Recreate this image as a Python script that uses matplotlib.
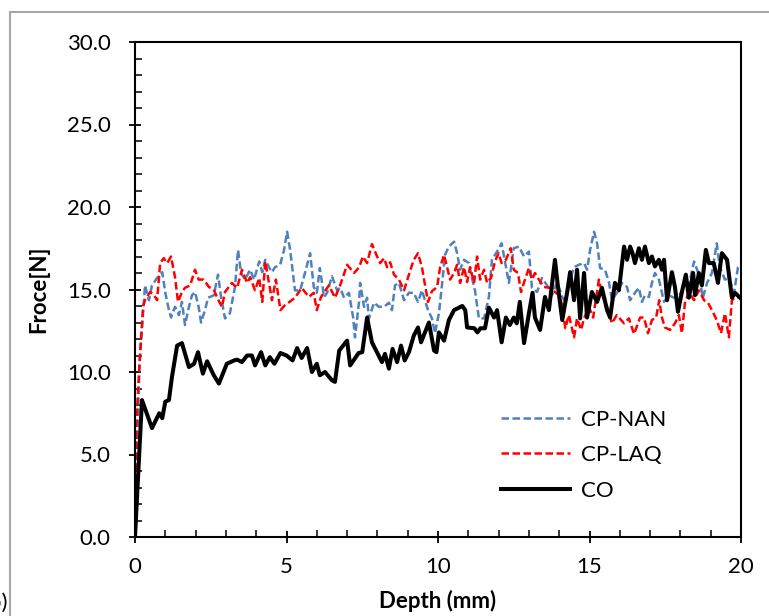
import matplotlib
matplotlib.use("Agg")
import matplotlib.pyplot as plt
from matplotlib.patches import Rectangle
from matplotlib.ticker import MultipleLocator, FormatStrFormatter

# ---- data ----
co_x = [0.0, 0.23, 0.56, 0.8, 0.9, 1.0, 1.12, 1.22, 1.39, 1.55, 1.78, 1.95, 2.08, 2.24, 2.38, 2.6, 2.77,
        3.03, 3.27, 3.37, 3.53, 3.7, 3.86, 3.96, 4.16, 4.3, 4.45, 4.6, 4.8, 5.0, 5.2, 5.35, 5.5, 5.68, 5.84,
        6.0, 6.1, 6.27, 6.5, 6.6, 6.74, 7.0, 7.1, 7.38, 7.5, 7.66, 7.82, 8.15, 8.25, 8.38, 8.5, 8.65, 8.78,
        8.9, 9.04, 9.2, 9.34, 9.44, 9.7, 9.87, 9.95, 10.03, 10.2, 10.36, 10.53, 10.8, 10.9, 10.96, 11.2,
        11.3, 11.4, 11.55, 11.68, 11.85, 11.95, 12.1, 12.24, 12.37, 12.5, 12.6, 12.7, 12.84, 13.0, 13.12,
        13.2, 13.37, 13.53, 13.66, 13.86, 13.96, 14.1, 14.26, 14.36, 14.49, 14.59, 14.69, 14.82, 14.92,
        15.08, 15.25, 15.41, 15.58, 15.68, 15.84, 15.97, 16.14, 16.24, 16.34, 16.42, 16.5, 16.63, 16.73,
        16.83, 16.96, 17.06, 17.16, 17.29, 17.39, 17.46, 17.56, 17.72, 17.82, 17.92, 18.05, 18.18, 18.28,
        18.42, 18.48, 18.61, 18.71, 18.84, 18.94, 19.1, 19.24, 19.37, 19.54, 19.7, 19.8, 19.97]
co_y = [0.0, 8.3, 6.6, 7.5, 7.2, 8.2, 8.3, 9.7, 11.6, 11.75, 10.3, 10.5, 11.2, 9.9, 10.65, 9.8, 9.3,
        10.5, 10.7, 10.75, 10.6, 11.0, 11.0, 10.4, 11.2, 10.4, 10.9, 10.5, 11.15, 11.0, 10.7, 11.45, 10.85,
        11.45, 10.0, 10.5, 9.8, 10.0, 9.5, 9.4, 11.3, 11.9, 10.4, 11.15, 11.2, 13.3, 11.8, 10.6, 11.1, 10.2,
        11.4, 10.6, 11.6, 10.7, 11.2, 12.2, 12.7, 11.8, 13.0, 11.3, 11.2, 12.4, 11.9, 13.15, 13.75, 14.0,
        13.75, 12.7, 12.65, 12.4, 12.65, 12.65, 13.9, 13.3, 13.75, 11.8, 13.3, 12.85, 13.3, 12.95, 14.25,
        11.75, 13.55, 14.8, 13.3, 12.55, 14.55, 13.75, 16.8, 15.15, 13.15, 14.8, 16.05, 14.35, 16.2, 13.25,
        16.0, 13.3, 14.85, 14.25, 15.1, 13.75, 13.3, 15.4, 14.95, 17.6, 16.8, 17.6, 17.2, 16.6, 17.5, 16.8,
        17.6, 16.6, 17.0, 16.4, 16.8, 16.2, 16.8, 14.35, 16.05, 15.15, 13.65, 14.85, 15.9, 14.5, 16.0,
        14.65, 16.0, 15.25, 17.4, 16.6, 16.6, 15.4, 17.2, 16.8, 14.5, 14.8, 14.5]

laq_x = [0.0, 0.05, 0.17, 0.27, 0.33, 0.5, 0.63, 0.73, 0.83, 0.95, 1.06, 1.19, 1.32, 1.42, 1.55, 1.65,
         1.82, 1.98, 2.1, 2.27, 2.44, 2.6, 2.7, 2.87, 2.97, 3.2, 3.37, 3.53, 3.7, 3.8, 3.96, 4.1, 4.2, 4.3,
         4.42, 4.52, 4.65, 4.8, 4.95, 5.1, 5.28, 5.5, 5.74, 5.9, 6.0, 6.14, 6.4, 6.6, 6.77, 7.0, 7.23, 7.4,
         7.52, 7.66, 7.82, 7.99, 8.09, 8.22, 8.32, 8.42, 8.55, 8.71, 8.88, 9.04, 9.2, 9.34, 9.47, 9.67, 9.8,
         9.97, 10.07, 10.2, 10.3, 10.4, 10.53, 10.63, 10.73, 10.86, 10.96, 11.06, 11.19, 11.29, 11.39, 11.52,
         11.62, 11.75, 11.88, 12.0, 12.1, 12.24, 12.4, 12.5, 12.64, 12.74, 12.87, 13.0, 13.1, 13.2, 13.33,
         13.5, 13.7, 13.86, 14.0, 14.1, 14.2, 14.32, 14.49, 14.59, 14.72, 14.82, 14.98, 15.12, 15.31, 15.45,
         15.58, 15.74, 15.9, 16.14, 16.3, 16.47, 16.67, 16.8, 16.93, 17.06, 17.2, 17.3, 17.39, 17.49, 17.66,
         17.82, 17.95, 18.05, 18.15, 18.28, 18.45, 18.61, 18.78, 18.91, 19.04, 19.2, 19.34, 19.47, 19.6,
         19.7, 19.83, 19.97]
laq_y = [0.0, 7.1, 11.2, 14.0, 14.35, 14.85, 14.65, 14.35, 16.6, 16.9, 16.6, 17.0, 15.75, 14.25, 14.85,
         15.1, 15.25, 16.2, 15.6, 15.6, 15.15, 15.0, 14.55, 13.95, 14.85, 15.4, 15.1, 16.2, 15.4, 15.75,
         14.95, 15.7, 14.25, 16.7, 15.4, 14.35, 15.6, 13.75, 14.05, 14.25, 14.5, 15.1, 14.55, 14.8, 13.75,
         14.55, 15.25, 14.5, 15.25, 16.5, 16.0, 16.35, 17.0, 16.6, 17.75, 17.0, 16.6, 16.9, 16.35, 16.65,
         15.9, 15.6, 14.95, 15.9, 16.8, 17.2, 16.35, 14.25, 14.9, 15.15, 16.35, 17.1, 16.35, 15.6, 16.0,
         16.5, 15.4, 16.35, 15.45, 16.35, 15.4, 17.0, 15.6, 16.2, 15.4, 15.7, 16.7, 17.2, 16.6, 16.8, 17.5,
         16.2, 16.0, 14.85, 15.6, 16.3, 15.6, 16.0, 15.6, 15.15, 15.1, 14.85, 14.65, 14.05, 12.65, 13.45,
         12.1, 13.25, 12.55, 13.25, 13.95, 13.3, 15.6, 14.5, 13.95, 12.95, 13.45, 12.95, 13.25, 12.3, 13.3,
         13.3, 12.35, 13.15, 13.3, 14.35, 13.3, 12.7, 12.55, 12.95, 13.45, 12.35, 14.2, 14.85, 14.35, 14.95,
         14.35, 14.2, 13.75, 13.15, 12.35, 13.55, 12.1, 14.35, 14.55, 14.5]

nan_x = [0.0, 0.05, 0.15, 0.33, 0.46, 0.56, 0.73, 0.9, 1.0, 1.12, 1.19, 1.32, 1.45, 1.55, 1.65, 1.78,
         1.88, 1.98, 2.1, 2.18, 2.31, 2.41, 2.6, 2.74, 2.84, 2.97, 3.13, 3.3, 3.4, 3.5, 3.63, 3.8, 3.93, 4.1,
         4.2, 4.3, 4.42, 4.52, 4.62, 4.79, 4.92, 5.02, 5.12, 5.28, 5.45, 5.61, 5.78, 5.9, 6.0, 6.1, 6.24,
         6.34, 6.5, 6.67, 6.77, 6.9, 7.06, 7.2, 7.26, 7.4, 7.43, 7.56, 7.66, 7.72, 7.89, 8.05, 8.22, 8.38,
         8.48, 8.58, 8.71, 8.88, 9.04, 9.2, 9.34, 9.47, 9.67, 9.8, 9.9, 10.03, 10.13, 10.23, 10.36, 10.53,
         10.63, 10.73, 10.86, 11.02, 11.12, 11.22, 11.35, 11.52, 11.68, 11.78, 11.95, 12.1, 12.2, 12.34,
         12.5, 12.67, 12.84, 13.0, 13.1, 13.27, 13.43, 13.6, 13.76, 13.93, 14.1, 14.2, 14.36, 14.49, 14.65,
         14.82, 14.92, 15.02, 15.15, 15.25, 15.35, 15.51, 15.64, 15.74, 15.9, 16.07, 16.24, 16.34, 16.5,
         16.63, 16.73, 16.83, 16.96, 17.06, 17.16, 17.29, 17.46, 17.62, 17.79, 17.95, 18.12, 18.28, 18.45,
         18.61, 18.74, 18.88, 19.04, 19.2, 19.3, 19.47, 19.6, 19.77, 19.9, 19.97]
nan_y = [0.0, 4.5, 10.5, 15.25, 14.35, 15.25, 15.7, 16.05, 14.8, 13.75, 13.3, 13.95, 13.45, 14.25, 12.85,
         13.95, 14.65, 14.85, 13.95, 13.0, 13.75, 14.5, 14.65, 15.9, 14.55, 13.25, 13.55, 15.15, 17.4, 16.0,
         15.6, 16.2, 15.6, 16.7, 16.05, 16.8, 16.35, 16.05, 16.35, 16.5, 17.4, 18.5, 17.4, 14.95, 14.95,
         16.0, 17.2, 15.15, 14.8, 16.3, 14.55, 14.8, 15.8, 14.95, 15.1, 14.5, 14.8, 13.3, 12.1, 14.35, 15.4,
         13.95, 14.5, 13.25, 14.2, 13.95, 13.95, 14.2, 13.75, 15.25, 15.4, 14.35, 14.8, 14.8, 14.25, 14.95,
         13.75, 13.25, 12.35, 13.55, 15.25, 17.1, 17.6, 17.9, 17.2, 16.2, 16.8, 16.6, 15.7, 14.95, 13.25,
         13.25, 14.55, 16.8, 17.3, 17.8, 16.8, 15.4, 17.5, 17.6, 17.0, 17.3, 15.1, 14.85, 15.7, 15.25, 14.65,
         15.45, 14.55, 14.25, 15.6, 16.35, 16.5, 16.6, 16.2, 17.4, 18.5, 17.8, 16.3, 16.2, 15.45, 14.35,
         14.8, 15.4, 15.15, 14.35, 14.8, 15.1, 14.25, 14.65, 14.55, 15.4, 16.0, 15.6, 14.25, 14.65, 14.5,
         14.6, 15.15, 15.25, 16.7, 15.9, 14.5, 15.4, 16.0, 17.8, 16.35, 15.6, 15.7, 14.8, 16.35, 16.5]

labels = ["CP-NAN", "CP-LAQ", "CO"]
x_ticks = [0, 5, 10, 15, 20]
y_ticks = [0, 5, 10, 15, 20, 25, 30]

plt.rcParams['font.family'] = ['Lato', 'DejaVu Sans']

fig = plt.figure(figsize=(7.69, 6.16), dpi=100)
W, H = 769, 616
ax = fig.add_axes([135 / W, 1 - 537 / H, (741 - 135) / W, (537 - 42) / H])

ax.plot(nan_x, nan_y, color='#4F81BD', lw=1.8, ls=(0, (3, 1.4)), label=labels[0])
ax.plot(laq_x, laq_y, color='#FF0000', lw=1.8, ls=(0, (3, 1.4)), label=labels[1])
ax.plot(co_x, co_y, color='black', lw=2.9, label=labels[2])

ax.set_xlim(0, 20)
ax.set_ylim(0, 30)
ax.set_xticks(x_ticks)
ax.set_yticks(y_ticks)
ax.yaxis.set_major_formatter(FormatStrFormatter('%.1f'))
ax.xaxis.set_minor_locator(MultipleLocator(1))
ax.yaxis.set_minor_locator(MultipleLocator(1))
ax.tick_params(which='major', direction='inout', length=9, width=1.3, labelsize=16)
ax.tick_params(axis='x', which='major', pad=10)
ax.tick_params(axis='y', which='major', pad=13)
ax.tick_params(which='minor', direction='in', length=5, width=1.1)
for s in ax.spines.values():
    s.set_linewidth(1.5)

ax.set_xlabel('Depth (mm)', fontsize=16, fontweight='bold', labelpad=9)
ax.set_ylabel('Froce[N]', fontsize=16, fontweight='bold', labelpad=13)

leg = ax.legend(loc='upper left', bbox_to_anchor=(0.585, 0.28), frameon=False, fontsize=16,
                handlelength=3.1, labelspacing=0.7, handletextpad=0.5, borderpad=0)

fig.patches.append(Rectangle((10 / W, -0.1), 1.2, 1 - 12 / H + 0.1, transform=fig.transFigure,
                             fill=False, edgecolor='#a6a6a6', lw=1.5))
fig.text(7 / W, 1 - 603 / H, '(b)', ha='right', va='center', fontsize=16)

fig.savefig('out.png', dpi=100)
